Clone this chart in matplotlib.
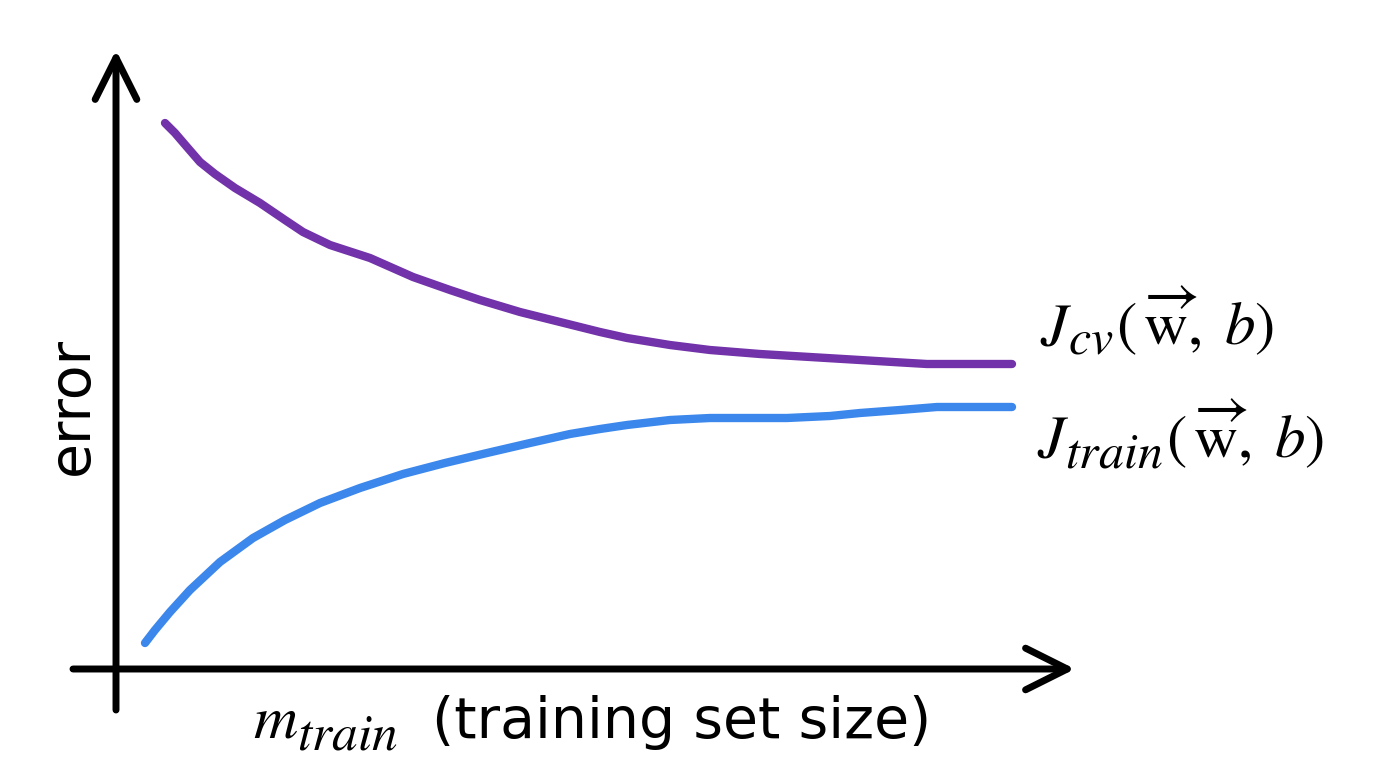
import matplotlib
matplotlib.use("Agg")
import matplotlib.pyplot as plt

plt.rcParams['mathtext.fontset'] = 'stix'
plt.rcParams['font.family'] = ['DejaVu Sans']

# Training set size (x) and error (y), origin at the axes crossing
cv_size = [49, 59, 71, 84, 99, 119, 144, 169, 187, 214, 254, 297, 334, 364, 404,
           444, 484, 511, 554, 594, 644, 694, 744, 777, 811, 896]
cv_error = [546, 536, 522, 507, 495, 481, 466, 449, 437, 424, 411, 392, 379, 369, 357,
            347, 337, 331, 324, 319, 315, 312, 309, 307, 305, 305]

train_size = [29, 39, 54, 74, 104, 137, 169, 204, 244, 287, 329, 371, 414, 454, 484,
              511, 554, 594, 671, 714, 744, 784, 821, 896]
train_error = [26, 39, 57, 79, 107, 131, 149, 166, 181, 195, 206, 216, 226, 235, 240,
               244, 249, 251, 251, 253, 256, 259, 262, 262]

cv_parts = [r'$J$', r'$cv$', r'$(\,\overrightarrow{\mathrm{w}},\; b)$']
train_parts = [r'$J$', r'$train$', r'$(\,\overrightarrow{\mathrm{w}},\; b)$']
y_label = 'error'
x_label_parts = [r'$m$', r'$train$']
x_label_text = '(training set size)'

purple = '#7232a9'
blue = '#3b87ec'

fig = plt.figure(figsize=(13.84, 7.74), dpi=100)
ax = fig.add_axes([0, 0, 1, 1])
ax.set_xlim(-116, 1268)
ax.set_ylim(-105, 669)
ax.axis('off')
renderer = fig.canvas.get_renderer()

# axes with open arrow heads
arrow_kw = dict(arrowstyle='->,head_length=0.30,head_width=0.15', lw=5,
                color='black', mutation_scale=100, shrinkA=0, shrinkB=0,
                capstyle='round', joinstyle='round')
ax.annotate('', xy=(959, 0), xytext=(-43, 0), arrowprops=arrow_kw)
ax.annotate('', xy=(0, 619), xytext=(0, -41), arrowprops=arrow_kw)

ax.plot(cv_size, cv_error, color=purple, lw=6, solid_capstyle='round',
        solid_joinstyle='round')
ax.plot(train_size, train_error, color=blue, lw=6, solid_capstyle='round',
        solid_joinstyle='round')


def draw_pieces(x0, y0, parts, sizes, drops, gaps):
    """Lay out text pieces left to right on a shared baseline (subscripts via drops)."""
    x = x0
    inv = ax.transData.inverted()
    for s, size, dy, gap in zip(parts, sizes, drops, gaps):
        x += gap
        t = ax.text(x, y0 - dy, s, fontsize=size, ha='left', va='baseline')
        bb = t.get_window_extent(renderer)
        x = inv.transform((bb.x1, bb.y0))[0]


# J_cv(w, b) and J_train(w, b)
draw_pieces(924, 324, cv_parts, [44, 36, 44], [0, 9, 0], [0, -4, 2])
draw_pieces(921, 211, train_parts, [44, 36, 44], [0, 9, 0], [0, -4, 3])

ax.text(-44, 263, y_label, fontsize=41, rotation=90, ha='center', va='center')
draw_pieces(137, -68, x_label_parts, [44, 37], [0, 12], [0, -1])
ax.text(316, -69, x_label_text, fontsize=41, ha='left', va='baseline')

fig.savefig('out.png', dpi=100, facecolor='white')
